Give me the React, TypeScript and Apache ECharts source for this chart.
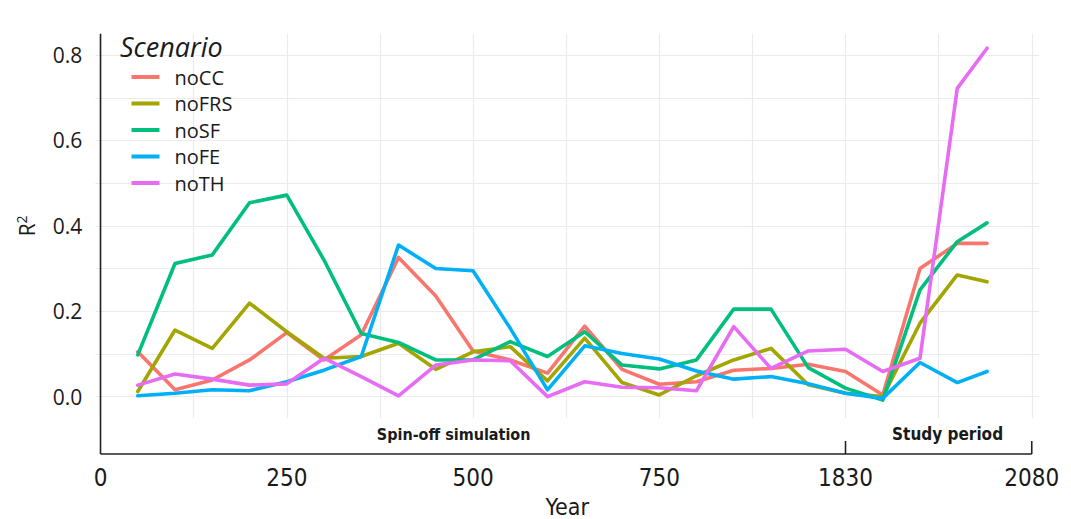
import React, { useEffect, useRef } from "react";
import * as echarts from "echarts";

// Years of each simulated point (spin-off years 50..1000, then study period years)
const years = [50, 100, 150, 200, 250, 300, 350, 400, 450, 500, 550, 600, 650, 700, 750, 800, 850, 900, 950, 1000, 1880, 1930, 1980, 2020];

const seriesNames = ["noCC", "noFRS", "noSF", "noFE", "noTH"];
const seriesColors = ["#F8766D", "#A3A500", "#00BF7D", "#00B0F6", "#E76BF3"];

const noCC = [0.105, 0.016, 0.039, 0.086, 0.150, 0.086, 0.145, 0.326, 0.236, 0.107, 0.086, 0.055, 0.165, 0.064, 0.029, 0.035, 0.062, 0.066, 0.076, 0.059, 0.004, 0.300, 0.359, 0.359];
const noFRS = [0.012, 0.156, 0.113, 0.219, 0.152, 0.090, 0.094, 0.125, 0.064, 0.105, 0.117, 0.037, 0.137, 0.033, 0.004, 0.049, 0.086, 0.113, 0.028, 0.008, 0.000, 0.172, 0.285, 0.269];
const noSF = [0.098, 0.312, 0.332, 0.454, 0.472, 0.320, 0.148, 0.127, 0.086, 0.086, 0.129, 0.094, 0.152, 0.074, 0.065, 0.086, 0.205, 0.205, 0.068, 0.020, -0.008, 0.250, 0.363, 0.407];
const noFE = [0.002, 0.008, 0.016, 0.014, 0.035, 0.062, 0.094, 0.355, 0.300, 0.295, 0.160, 0.016, 0.119, 0.101, 0.088, 0.060, 0.041, 0.047, 0.030, 0.008, -0.004, 0.080, 0.033, 0.059];
const noTH = [0.027, 0.053, 0.041, 0.027, 0.030, 0.090, 0.047, 0.002, 0.074, 0.086, 0.084, 0.000, 0.035, 0.022, 0.021, 0.014, 0.164, 0.066, 0.107, 0.111, 0.059, 0.090, 0.722, 0.816];
const seriesValues = [noCC, noFRS, noSF, noFE, noTH];

// Axis: spin-off years shown as-is, study period years shifted so 1830 sits at 1000
const xTickValues = [0, 250, 500, 750, 1000, 1250];
const xTickLabels = ["0", "250", "500", "750", "1830", "2080"];
const yTickValues = [0, 0.2, 0.4, 0.6, 0.8];
const yGridValues = [0, 0.1, 0.2, 0.3, 0.4, 0.5, 0.6, 0.7, 0.8];
const xGridValues = [0, 125, 250, 375, 500, 625, 750, 875, 1000, 1125, 1250];

const toAxis = (yr: number) => (yr > 1000 ? yr - 830 : yr);

const narrow = "'Liberation Sans Narrow', 'DejaVu Sans Condensed', 'Open Sans', sans-serif";
const sans = "'Open Sans', 'Noto Sans', sans-serif";

export default function App() {
  const ref = useRef<HTMLDivElement>(null);

  useEffect(() => {
    document.body.style.margin = "0";
    if (!ref.current) return;
    const chart = echarts.init(ref.current, undefined, { renderer: "svg" });

    const gridColor = "#EBEBEB";
    const option: any = {
      animation: false,
      grid: { left: 95.3, right: 31.8, top: 33.75, bottom: 101, outerBoundsMode: "none", containLabel: false },
      xAxis: {
        type: "value",
        min: -7,
        max: 1260,
        axisLine: { show: false },
        axisTick: { show: false },
        splitLine: { show: false },
        axisLabel: {
          customValues: xTickValues,
          margin: 48,
          fontSize: 24,
          fontFamily: narrow,
          color: "#1a1a1a",
          formatter: (v: number) => {
            const i = xTickValues.indexOf(Math.round(v));
            return i >= 0 ? xTickLabels[i] : "";
          },
        },
        name: "Year",
        nameLocation: "middle",
        nameGap: 77,
        nameTextStyle: { fontSize: 23, lineHeight: 23, fontFamily: narrow, color: "#1a1a1a" },
      },
      yAxis: {
        type: "value",
        min: -0.05,
        max: 0.85,
        axisLine: { show: false },
        axisTick: { show: false },
        splitLine: { show: false },
        axisLabel: {
          customValues: yTickValues,
          margin: 13,
          fontSize: 21,
          fontFamily: sans,
          color: "#1a1a1a",
          formatter: (v: number) => v.toFixed(1),
        },
        name: "R{s|2}",
        nameLocation: "middle",
        nameGap: 55,
        nameTextStyle: {
          fontSize: 21,
          fontFamily: sans,
          color: "#1a1a1a",
          rich: {
            s: { fontSize: 14, fontFamily: sans, color: "#1a1a1a", verticalAlign: "top", padding: [0, 0, 12, 0] },
          },
        },
      },
      legend: {
        data: seriesNames,
        orient: "vertical",
        left: 126.5,
        top: 62,
        icon: "rect",
        itemWidth: 28,
        itemHeight: 4,
        itemGap: 6.5,
        selectedMode: false,
        textStyle: { fontSize: 20, lineHeight: 20, fontFamily: sans, color: "#1a1a1a", padding: [0, 0, 0, 10] },
      },
      series: [
        {
          name: "grid",
          type: "line",
          data: [],
          z: 1,
          silent: true,
          markLine: {
            silent: true,
            symbol: "none",
            z: 1,
            label: { show: false },
            lineStyle: { color: gridColor, width: 1.2, type: "solid" },
            data: [
              ...yGridValues.map((v) => ({ yAxis: v })),
              ...xGridValues.map((v) => ({ xAxis: v })),
            ],
          },
        },
        ...seriesNames.map((name, si) => ({
          name,
          type: "line",
          z: 3,
          symbol: "none",
          smooth: false,
          color: seriesColors[si],
          lineStyle: { width: 3.6, color: seriesColors[si], cap: "round", join: "round" },
          data: years.map((yr, i) => [toAxis(yr), seriesValues[si][i]]),
        })),
      ],
    };
    chart.setOption(option);

    const p = (x: number, y: number) => chart.convertToPixel({ gridIndex: 0 }, [x, y]) as number[];
    const origin = p(0, 0.85);
    const bottom = p(0, -0.05);
    const bracketY = bottom[1] + 36;
    const x0 = origin[0];
    const x1830 = p(1000, 0)[0];
    const x2080 = p(1250, 0)[0];
    const axisStyle = { stroke: "#222", lineWidth: 1.6 };
    chart.setOption({
      graphic: [
        { type: "line", shape: { x1: x0, y1: origin[1], x2: x0, y2: bracketY }, style: axisStyle, z: 10 },
        { type: "line", shape: { x1: x0, y1: bracketY, x2: x2080, y2: bracketY }, style: axisStyle, z: 10 },
        { type: "line", shape: { x1: x1830, y1: bracketY - 13, x2: x1830, y2: bracketY }, style: axisStyle, z: 10 },
        { type: "line", shape: { x1: x2080, y1: bracketY - 13, x2: x2080, y2: bracketY }, style: axisStyle, z: 10 },
        {
          type: "text",
          x: p(474, 0)[0],
          y: bracketY - 20,
          style: { text: "Spin-off simulation", font: `bold 16px ${narrow}`, fill: "#1a1a1a", align: "center", verticalAlign: "middle" },
          z: 10,
        },
        {
          type: "text",
          x: p(1137, 0)[0],
          y: bracketY - 20,
          style: { text: "Study period", font: `bold 17px ${narrow}`, fill: "#1a1a1a", align: "center", verticalAlign: "middle" },
          z: 10,
        },
        {
          type: "text",
          x: 120,
          y: 46,
          style: { text: "Scenario", font: `italic 27px ${sans}`, fill: "#1a1a1a", align: "left", verticalAlign: "middle" },
          z: 10,
        },
      ],
    });

    return () => chart.dispose();
  }, []);

  return <div ref={ref} style={{ width: 1071, height: 519 }} />;
}
